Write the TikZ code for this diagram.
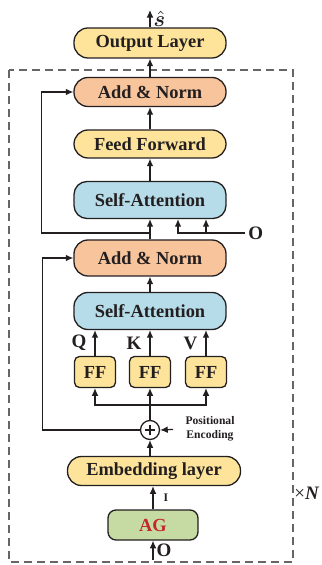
\documentclass[tikz,border=0pt]{standalone}
\usepackage{fontspec}
\setmainfont{Liberation Serif}
\usepackage{amsmath}
\usepackage{bm}
\usepackage{xcolor}
\usetikzlibrary{arrows.meta}

\definecolor{boxyellow}{HTML}{FDE49A}
\definecolor{boxorange}{HTML}{F8C49C}
\definecolor{boxblue}{HTML}{B5DCE8}
\definecolor{boxgreen}{HTML}{C6DBA3}
\definecolor{agred}{HTML}{C1272D}
\definecolor{inkdark}{HTML}{231F20}

\tikzset{
    layer/.style={draw=inkdark, line width=0.65pt, rounded corners=7pt, minimum width=76pt,
        minimum height=15pt, inner sep=0pt, text=inkdark, font=\fontsize{9.2}{11}\selectfont\bfseries},
    ffbox/.style={draw=inkdark, line width=0.65pt, rounded corners=2.5pt, fill=boxyellow,
        minimum width=20.5pt, minimum height=15.5pt, inner sep=0pt, text=inkdark,
        font=\fontsize{9.2}{11}\selectfont\bfseries},
    lbl/.style={text=inkdark, inner sep=1.5pt, font=\fontsize{9.5}{11}\selectfont\bfseries},
    tinylbl/.style={text=inkdark, inner sep=1pt, font=\fontsize{5.8}{7}\selectfont\bfseries},
    flow/.style={draw=inkdark, line width=0.6pt, -{Latex[length=3.8pt,width=3.4pt]}},
}

\begin{document}
\begin{tikzpicture}[x=0.5pt, y=-0.5pt]
    \useasboundingbox (0,0) rectangle (321,565);

    % repeated block
    \draw[draw=gray!80!black, line width=0.65pt, dash pattern=on 4pt off 2.5pt] (9,70) rectangle (293,562);
    \node[anchor=west, inner sep=0pt, text=inkdark, font=\fontsize{9.5}{11}\selectfont] (rep) at (294,493) {×\textbf{\textit{N}}};

    % layers
    \node[layer, fill=boxyellow] (out) at (150,43) {Output Layer};
    \node[layer, fill=boxorange, minimum height=14.5pt] (add1) at (150,92) {Add \& Norm};
    \node[layer, fill=boxyellow, minimum height=14pt] (ffw) at (150,144) {Feed Forward};
    \node[layer, fill=boxblue, minimum height=18.5pt, rounded corners=6.5pt] (att1) at (150,200) {Self-Attention};
    \node[layer, fill=boxorange, minimum height=18pt] (add2) at (150,258) {Add \& Norm};
    \node[layer, fill=boxblue, minimum height=18.5pt] (att2) at (150,311) {Self-Attention};

    \node[ffbox] (ffq) at (95,372) {FF};
    \node[ffbox] (ffk) at (150,372) {FF};
    \node[ffbox] (ffv) at (206,372) {FF};

    \node[circle, draw=inkdark, line width=0.65pt, minimum size=9.5pt, inner sep=0pt] (sum) at (150,430) {};
    \draw[line width=1.1pt, inkdark] ([xshift=-2.6pt]sum.center) -- ([xshift=2.6pt]sum.center)
        ([yshift=-2.6pt]sum.center) -- ([yshift=2.6pt]sum.center);
    \node[tinylbl, align=center] (pos) at (210,429) {Positional\\Encoding};

    \node[layer, fill=boxyellow, minimum width=86.5pt, minimum height=14.5pt] (emb) at (154,471) {Embedding layer};
    \node[layer, fill=boxgreen, minimum width=45pt, rounded corners=4pt, text=agred] (ag) at (153,525) {AG};

    % free ends
    \coordinate (shat) at (150,10);
    \coordinate (res1) at (150,233);
    \coordinate (split) at (150,405);
    \coordinate (agin) at (153,560);
    \node[lbl, anchor=west] (olab) at (245,233) {O};

    % upper block
    \draw[flow] (out) -- (shat) node[right, lbl, midway, font=\fontsize{11}{12}\selectfont] {$\hat{\bm{s}}$};
    \draw[flow] (add1) -- (out);
    \draw[flow] (ffw) -- (add1);
    \draw[flow] (att1) -- (ffw);
    \draw[flow] (add2) -- (att1);
    \draw[flow] (res1) -| ([xshift=-16pt]add1.west) -- (add1.west);
    \draw[flow] (olab.west) -| ([xshift=28pt]att1.south);
    \draw[flow] ([xshift=28pt]att1.south |- olab.west) -| ([xshift=14pt]att1.south);

    % lower block
    \draw[flow] (att2) -- (add2);
    \draw[flow] (ffq) -- (ffq |- att2.south) node[midway, left, lbl, xshift=-2.5pt] {Q};
    \draw[flow] (ffk) -- (att2) node[midway, left, lbl, xshift=-2.5pt] {K};
    \draw[flow] (ffv) -- (ffv |- att2.south) node[midway, left, lbl, xshift=-2.5pt] {V};
    \draw[flow] (sum) -- (ffk);
    \draw[flow] (split) -| (ffq);
    \draw[flow] (split) -| (ffv);
    \draw[flow] (sum.west) -| ([xshift=-15.5pt]add2.west) -- (add2.west);
    \draw[flow, shorten <=5pt] (pos.west) -- (sum.east);

    % input
    \draw[flow] (sum |- emb.north) -- (sum);
    \draw[flow] (ag) -- (ag |- emb.south) node[midway, right, tinylbl, xshift=4pt] {I};
    \draw[flow] (agin) -- (ag) node[midway, right, lbl] {O};
\end{tikzpicture}
\end{document}
